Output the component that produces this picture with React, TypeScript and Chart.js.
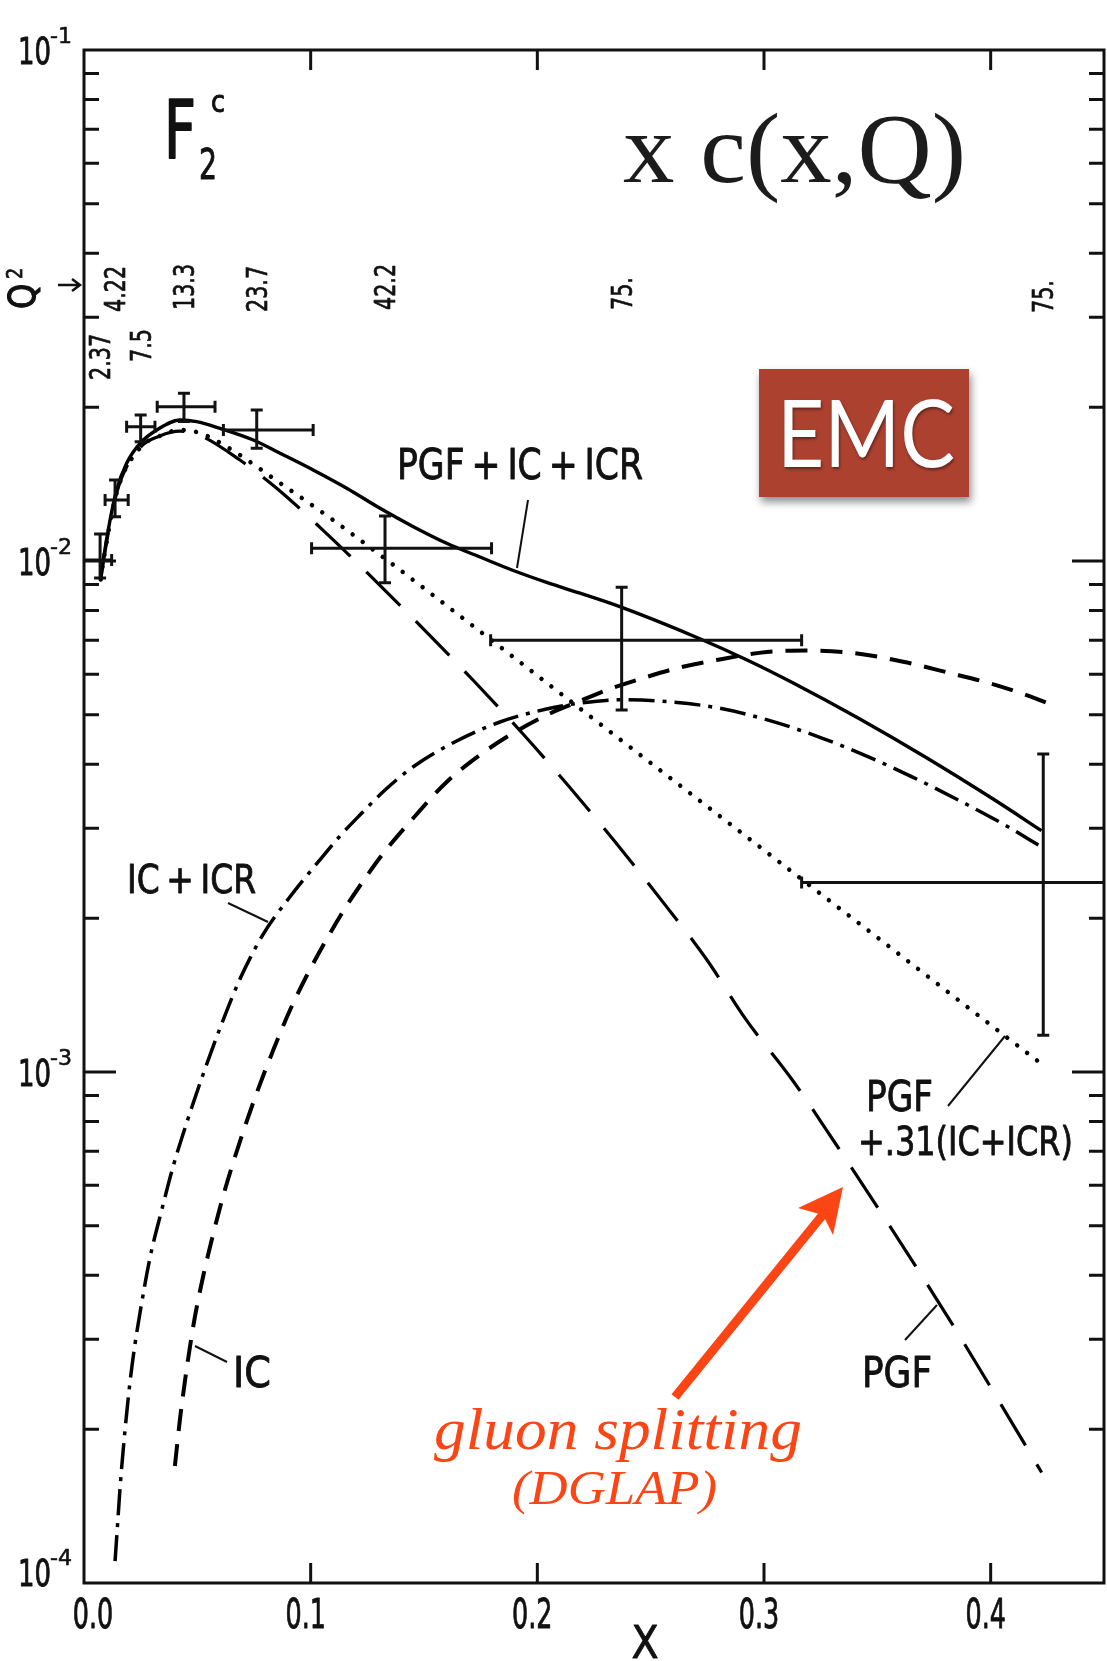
import React, { useEffect, useRef } from "react";
import { Chart, registerables } from "chart.js";

Chart.register(...registerables);

// ---- EMC charm structure function measurements ----
// bin centre in x, horizontal bin limits, F2c value and its error limits
const pointX = [0.0071, 0.0137, 0.025, 0.0441, 0.0762, 0.1328, 0.2372, 0.4232];
const pointXLow = [0.0004, 0.0093, 0.0188, 0.0323, 0.0615, 0.1004, 0.1794, 0.3166];
const pointXHigh = [0.0122, 0.0195, 0.0313, 0.0578, 0.1011, 0.1798, 0.3166, 0.45];
const pointY = [0.01005, 0.01316, 0.01832, 0.02004, 0.01805, 0.01059, 0.007, 0.00235];
const pointYLow = [0.00926, 0.01221, 0.01712, 0.01874, 0.01662, 0.00907, 0.00511, 0.00118];
const pointYHigh = [0.0113, 0.0144, 0.0193, 0.0213, 0.01975, 0.01225, 0.00888, 0.00419];
// mean Q^2 of each bin
const q2Values = ["2.37", "4.22", "7.5", "13.3", "23.7", "42.2", "75.", "75."];

// ---- model curves ----
// PGF + IC + ICR (solid)
const totalX = [0.0074, 0.0085, 0.0115, 0.0144, 0.0188, 0.0247, 0.0321, 0.0423, 0.0497, 0.06, 0.0747, 0.0865, 0.1011, 0.1159, 0.1306, 0.1453, 0.16, 0.1747, 0.1894, 0.2041, 0.2188, 0.2364, 0.2717, 0.2923, 0.3129, 0.3423, 0.3717, 0.4011, 0.4224];
const totalY = [0.00925, 0.01005, 0.01203, 0.01377, 0.01553, 0.01699, 0.01805, 0.01888, 0.01874, 0.01818, 0.01725, 0.01625, 0.01507, 0.01388, 0.01268, 0.01167, 0.01083, 0.01018, 0.00958, 0.00908, 0.00865, 0.00814, 0.007045, 0.006409, 0.005771, 0.004907, 0.004121, 0.003421, 0.002967];
// PGF + .31(IC+ICR) (dotted)
const mixX = [0.0074, 0.0085, 0.0144, 0.0247, 0.0335, 0.0423, 0.0512, 0.0629, 0.0865, 0.1085, 0.1203, 0.135, 0.1526, 0.1732, 0.1894, 0.207, 0.2232, 0.2482, 0.2747, 0.3026, 0.3276, 0.3482, 0.3746, 0.4018, 0.4247];
const mixY = [0.0092, 0.00995, 0.01358, 0.01664, 0.01757, 0.01805, 0.0178, 0.01674, 0.01421, 0.01215, 0.01112, 0.00994, 0.008667, 0.007369, 0.006488, 0.005647, 0.00497, 0.004083, 0.003315, 0.002662, 0.002186, 0.00186, 0.00151, 0.001219, 0.001019];
// PGF alone (long dashes)
const pgfX = [0.0074, 0.0085, 0.0144, 0.0247, 0.0335, 0.0423, 0.0512, 0.0688, 0.085, 0.1041, 0.1247, 0.1482, 0.1717, 0.1938, 0.2136, 0.2342, 0.2563, 0.2747, 0.292, 0.3122, 0.3313, 0.3511, 0.3695, 0.3872, 0.4048, 0.4225];
const pgfY = [0.0092, 0.00995, 0.01358, 0.01664, 0.01757, 0.01795, 0.0176, 0.01576, 0.01388, 0.01164, 0.00951, 0.007482, 0.005843, 0.004581, 0.003635, 0.002824, 0.002126, 0.00166, 0.001268, 0.000969, 0.000727, 0.000535, 0.0004001, 0.0002998, 0.0002227, 0.0001645];
// IC + ICR (dash-dot)
const icrX = [0.0137, 0.0148, 0.0159, 0.0181, 0.0203, 0.0225, 0.0247, 0.0291, 0.0343, 0.0394, 0.046, 0.0526, 0.0607, 0.0688, 0.0791, 0.0909, 0.1034, 0.1129, 0.1217, 0.1328, 0.1451, 0.1644, 0.1835, 0.2041, 0.2173, 0.2364, 0.2585, 0.2805, 0.3041, 0.3261, 0.3453, 0.3658, 0.3864, 0.407, 0.4217];
const icrY = [0.0001104, 0.0001299, 0.0001534, 0.0001993, 0.0002473, 0.0002935, 0.0003377, 0.0004325, 0.000537, 0.000655, 0.000813, 0.000991, 0.001241, 0.00152, 0.001862, 0.002203, 0.00258, 0.002895, 0.003183, 0.003563, 0.003953, 0.004444, 0.004841, 0.005133, 0.005261, 0.00535, 0.0053, 0.00515, 0.00485, 0.004493, 0.004153, 0.003772, 0.003394, 0.00303, 0.002769];
// IC alone (short dashes)
const icX = [0.0401, 0.0423, 0.0446, 0.0468, 0.049, 0.0526, 0.057, 0.0614, 0.0659, 0.0703, 0.0762, 0.0835, 0.0909, 0.0982, 0.1056, 0.1144, 0.1232, 0.132, 0.1453, 0.16, 0.1747, 0.1894, 0.2041, 0.2188, 0.232, 0.2482, 0.2629, 0.2791, 0.3012, 0.3195, 0.3394, 0.3614, 0.382, 0.3997, 0.4158, 0.4291];
const icY = [0.0001694, 0.0002084, 0.0002496, 0.0002909, 0.0003331, 0.0003989, 0.000482, 0.000572, 0.000667, 0.000766, 0.00091, 0.001104, 0.001322, 0.001541, 0.001772, 0.002066, 0.002365, 0.002677, 0.003141, 0.003694, 0.004173, 0.004607, 0.004995, 0.005321, 0.005618, 0.005929, 0.006188, 0.006401, 0.006636, 0.006681, 0.006607, 0.006353, 0.006036, 0.005762, 0.005465, 0.005187];

// ---- axes ----
const xTicks = [0, 0.1, 0.2, 0.3, 0.4];
const xTickLabels = ["0.0", "0.1", "0.2", "0.3", "0.4"];
const yDecades = [1e-1, 1e-2, 1e-3, 1e-4];
const yDecadeExponents = ["-1", "-2", "-3", "-4"];

const SANS = '"DejaVu Sans", "Noto Sans", sans-serif';
const SERIF = '"Liberation Serif", "DejaVu Serif", serif';
const INK = "#111";
const ORANGE = "#fb4514";

type TextOpts = {
  width?: number;
  sx?: number;
  align?: "left" | "center" | "right";
  rotate?: number;
  color?: string;
  style?: string;
  shadow?: boolean;
  stroke?: number;
};

function drawText(
  ctx: CanvasRenderingContext2D,
  s: string,
  x: number,
  y: number,
  size: number,
  family: string,
  opts: TextOpts = {}
) {
  const { width, sx = 1, align = "left", rotate = 0, color = INK, style = "" } = opts;
  ctx.save();
  ctx.font = `${style} ${size}px ${family}`;
  const m = ctx.measureText(s).width;
  const k = width ? width / m : sx;
  ctx.translate(x, y);
  if (rotate) ctx.rotate(rotate);
  ctx.scale(k, 1);
  ctx.fillStyle = color;
  ctx.strokeStyle = color;
  ctx.textBaseline = "alphabetic";
  ctx.textAlign = "left";
  if (opts.shadow) {
    ctx.shadowColor = "rgba(0,0,0,0.45)";
    ctx.shadowBlur = 3;
    ctx.shadowOffsetX = 1;
    ctx.shadowOffsetY = 2;
  }
  const off = align === "center" ? -m / 2 : align === "right" ? -m : 0;
  ctx.fillText(s, off, 0);
  if (opts.stroke) {
    ctx.lineWidth = opts.stroke;
    ctx.lineJoin = "round";
    ctx.strokeText(s, off, 0);
  }
  ctx.restore();
}

function line(ctx: CanvasRenderingContext2D, x1: number, y1: number, x2: number, y2: number, w = 2) {
  ctx.save();
  ctx.strokeStyle = INK;
  ctx.lineWidth = w;
  ctx.setLineDash([]);
  ctx.beginPath();
  ctx.moveTo(x1, y1);
  ctx.lineTo(x2, y2);
  ctx.stroke();
  ctx.restore();
}

const pts = (xs: number[], ys: number[]) => xs.map((x, i) => ({ x, y: ys[i] }));

const LETTER = 0.9; // extra stroke to give the lettering its plotter weight

const decorPlugin = {
  id: "emcDecor",
  beforeDraw(chart: any) {
    const ctx = chart.ctx as CanvasRenderingContext2D;
    ctx.save();
    ctx.fillStyle = "#fff";
    ctx.fillRect(0, 0, chart.width, chart.height);
    ctx.restore();
  },
  afterDatasetsDraw(chart: any) {
    const ctx = chart.ctx as CanvasRenderingContext2D;
    const xs = chart.scales.x;
    const ys = chart.scales.y;
    const { left, right, top, bottom } = chart.chartArea;
    const X = (v: number) => xs.getPixelForValue(v);
    const Y = (v: number) => ys.getPixelForValue(v);

    // error bars
    ctx.save();
    ctx.strokeStyle = INK;
    ctx.lineWidth = 3;
    const cap = 6;
    pointX.forEach((px, i) => {
      const cx = X(px);
      const cy = Y(pointY[i]);
      const xl = Math.max(left, X(pointXLow[i]));
      const xh = Math.min(right, X(pointXHigh[i]));
      const yl = Y(pointYLow[i]);
      const yh = Y(pointYHigh[i]);
      ctx.beginPath();
      ctx.moveTo(xl, cy);
      ctx.lineTo(xh, cy);
      ctx.moveTo(cx, yl);
      ctx.lineTo(cx, yh);
      ctx.moveTo(cx - cap, yl);
      ctx.lineTo(cx + cap, yl);
      ctx.moveTo(cx - cap, yh);
      ctx.lineTo(cx + cap, yh);
      if (xl > left + 2) {
        ctx.moveTo(xl, cy - cap);
        ctx.lineTo(xl, cy + cap);
      }
      if (xh < right - 2) {
        ctx.moveTo(xh, cy - cap);
        ctx.lineTo(xh, cy + cap);
      }
      ctx.stroke();
    });
    ctx.restore();

    // frame
    ctx.save();
    ctx.strokeStyle = INK;
    ctx.lineWidth = 3;
    ctx.strokeRect(left, top, right - left, bottom - top);
    // x ticks, top and bottom, pointing inward
    xTicks.forEach((t) => {
      if (t === 0) return;
      const px = X(t);
      ctx.beginPath();
      ctx.moveTo(px, bottom);
      ctx.lineTo(px, bottom - 20);
      ctx.moveTo(px, top);
      ctx.lineTo(px, top + 20);
      ctx.stroke();
    });
    // log y ticks, left and right
    yDecades.forEach((d) => {
      const py = Y(d);
      if (py > top + 2 && py < bottom - 2) {
        ctx.beginPath();
        ctx.moveTo(left, py);
        ctx.lineTo(left + 32, py);
        ctx.moveTo(right, py);
        ctx.lineTo(right - 32, py);
        ctx.stroke();
      }
      for (let m = 2; m <= 9; m++) {
        const v = d * m;
        if (v >= 0.1) continue;
        const pm = Y(v);
        ctx.beginPath();
        ctx.moveTo(left, pm);
        ctx.lineTo(left + 15, pm);
        ctx.moveTo(right, pm);
        ctx.lineTo(right - 15, pm);
        ctx.stroke();
      }
    });
    ctx.restore();

    // tick labels
    xTicks.forEach((t, i) => {
      const cx = t === 0 ? X(t) + 9 : X(t) - 5;
      drawText(ctx, xTickLabels[i], cx, bottom + 45, 41, SANS, { align: "center", sx: 0.62, stroke: LETTER });
    });
    yDecades.forEach((d, i) => {
      const py = Y(d);
      const base = Math.min(py + 14, bottom + 3);
      drawText(ctx, "10", 18, base, 38, SANS, { width: 33, stroke: LETTER });
      drawText(ctx, yDecadeExponents[i], 50, base - 21, 22, SANS, { width: 22, stroke: 0.6 });
    });
    drawText(ctx, "X", 645, 1658, 44, SANS, { align: "center", sx: 0.9, stroke: LETTER });

    // Q^2 marker on the left axis
    drawText(ctx, "Q", 35, 309, 38, SANS, { rotate: -Math.PI / 2, sx: 0.85, stroke: 1.2 });
    drawText(ctx, "2", 22, 279, 22, SANS, { rotate: -Math.PI / 2, sx: 0.8, stroke: 0.8 });
    ctx.save();
    ctx.strokeStyle = INK;
    ctx.lineWidth = 2.5;
    ctx.beginPath();
    ctx.moveTo(58, 285);
    ctx.lineTo(80, 285);
    ctx.moveTo(72, 279);
    ctx.lineTo(80, 285);
    ctx.lineTo(72, 291);
    ctx.stroke();
    ctx.restore();

    // Q^2 values above each bin
    const q2Bottom = [380, 312, 362, 310, 312, 310, 310, 313];
    pointX.forEach((px, i) => {
      drawText(ctx, q2Values[i], X(px) + 10, q2Bottom[i], 28, SANS, {
        rotate: -Math.PI / 2,
        sx: 0.74,
        stroke: 0.7,
      });
    });

    // panel title
    drawText(ctx, "F", 164, 158, 80, SANS, { width: 32, stroke: 2 });
    drawText(ctx, "2", 199, 179, 42, SANS, { width: 18, stroke: 1 });
    drawText(ctx, "c", 211, 112, 30, SANS, { width: 14, stroke: 1 });
    drawText(ctx, "x c(x,Q)", 623, 182, 100, SERIF, { width: 343, color: "#1c1c1c" });

    // curve labels and pointers
    drawText(ctx, "PGF\u2009+\u2009IC\u2009+\u2009ICR", 397, 479, 42, SANS, { width: 246, stroke: LETTER });
    line(ctx, 528, 500, 517, 568);
    drawText(ctx, "IC\u2009+\u2009ICR", 127, 893, 39, SANS, { width: 129, stroke: LETTER });
    line(ctx, 228, 903, 268, 922);
    drawText(ctx, "IC", 233, 1387, 42, SANS, { width: 38, stroke: LETTER });
    line(ctx, 195, 1346, 227, 1362);
    drawText(ctx, "PGF", 866, 1111, 42, SANS, { width: 67, stroke: LETTER });
    drawText(ctx, "+.31(IC+ICR)", 858, 1155, 39, SANS, { width: 215, stroke: LETTER });
    line(ctx, 948, 1106, 1005, 1036);
    drawText(ctx, "PGF", 862, 1387, 42, SANS, { width: 70, stroke: LETTER });
    line(ctx, 905, 1340, 937, 1305);

    // EMC badge
    ctx.save();
    ctx.shadowColor = "rgba(0,0,0,0.45)";
    ctx.shadowBlur = 8;
    ctx.shadowOffsetX = 2;
    ctx.shadowOffsetY = 5;
    ctx.fillStyle = "#ad4130";
    ctx.fillRect(759, 369, 210, 128);
    ctx.restore();
    drawText(ctx, "EMC", 777, 467, 93, '"Lato", "Open Sans", sans-serif', {
      width: 178,
      color: "#fff",
      shadow: true,
    });

    // gluon splitting arrow
    const tail = { x: 675, y: 1397 };
    const notch = { x: 823, y: 1215 };
    ctx.save();
    ctx.strokeStyle = ORANGE;
    ctx.fillStyle = ORANGE;
    ctx.lineWidth = 9;
    ctx.beginPath();
    ctx.moveTo(tail.x, tail.y);
    ctx.lineTo(notch.x + 2, notch.y - 3);
    ctx.stroke();
    ctx.beginPath();
    ctx.moveTo(843, 1187);
    ctx.lineTo(798, 1208);
    ctx.lineTo(notch.x, notch.y);
    ctx.lineTo(833, 1235);
    ctx.closePath();
    ctx.fill();
    ctx.restore();
    drawText(ctx, "gluon splitting", 434, 1449, 60, SERIF, {
      width: 368,
      color: ORANGE,
      style: "italic",
    });
    drawText(ctx, "(DGLAP)", 512, 1504, 48, SERIF, {
      width: 205,
      color: ORANGE,
      style: "italic",
    });
  },
};

export default function App() {
  const canvasRef = useRef<HTMLCanvasElement | null>(null);

  useEffect(() => {
    const canvas = canvasRef.current;
    if (!canvas) return;
    const common = {
      showLine: true,
      pointRadius: 0,
      borderColor: "#000",
      cubicInterpolationMode: "monotone" as const,
      fill: false,
    };
    const chart = new Chart(canvas, {
      type: "scatter",
      data: {
        datasets: [
          { ...common, label: "IC", data: pts(icX, icY), borderWidth: 4, borderDash: [22, 13] },
          { ...common, label: "IC+ICR", data: pts(icrX, icrY), borderWidth: 3.5, borderDash: [26, 8, 4, 8] },
          { ...common, label: "PGF", data: pts(pgfX, pgfY), borderWidth: 3.2, borderDash: [48, 22] },
          {
            ...common,
            label: "PGF+.31(IC+ICR)",
            data: pts(mixX, mixY),
            borderWidth: 4.5,
            borderDash: [0.01, 12.5],
            borderCapStyle: "round",
          },
          { ...common, label: "PGF+IC+ICR", data: pts(totalX, totalY), borderWidth: 3.4 },
        ],
      },
      options: {
        animation: false,
        responsive: false,
        devicePixelRatio: 1,
        events: [],
        layout: { padding: { left: 84, top: 50, right: 3, bottom: 78 } },
        scales: {
          x: { type: "linear", min: 0, max: 0.45, display: false },
          y: { type: "logarithmic", min: 1e-4, max: 1e-1, display: false },
        },
        plugins: {
          legend: { display: false },
          tooltip: { enabled: false },
          title: { display: false },
        },
      },
      plugins: [decorPlugin],
    });
    return () => chart.destroy();
  }, []);

  return (
    <div style={{ position: "absolute", left: 0, top: 0, width: 1107, height: 1661, background: "#fff" }}>
      <canvas ref={canvasRef} width={1107} height={1661} style={{ display: "block" }} />
    </div>
  );
}
